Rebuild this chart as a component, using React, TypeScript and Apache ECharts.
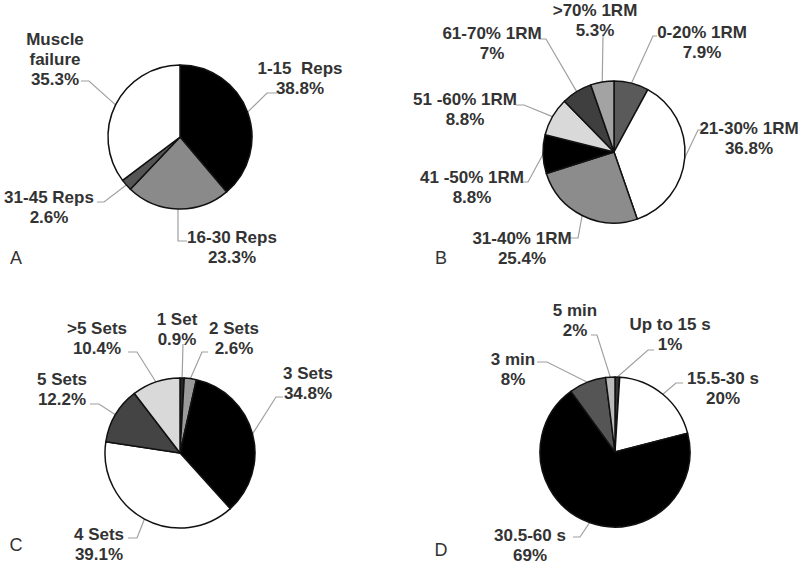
import React, { useEffect, useRef } from "react";
import * as echarts from "echarts";

// ---- Data ----
const repsNames = ["1-15  Reps", "16-30 Reps", "31-45 Reps", "Muscle\nfailure"];
const repsValues = [38.8, 23.3, 2.6, 35.3];

const loadNames = ["0-20% 1RM", "21-30% 1RM", "31-40% 1RM", "41 -50% 1RM", "51 -60% 1RM", "61-70% 1RM", ">70% 1RM"];
const loadValues = [7.9, 36.8, 25.4, 8.8, 8.8, 7, 5.3];

const setsNames = ["1 Set", "2 Sets", "3 Sets", "4 Sets", "5 Sets", ">5 Sets"];
const setsValues = [0.9, 2.6, 34.8, 39.1, 12.2, 10.4];

const restNames = ["Up to 15 s", "15.5-30 s", "30.5-60 s", "3 min", "5 min"];
const restValues = [1, 20, 69, 8, 2];

const panelLetters = ["A", "B", "C", "D"];

// ---- Styles / layout (not data) ----
const repsColors = ["#000000", "#8a8a8a", "#555555", "#ffffff"];
const loadColors = ["#5a5a5a", "#ffffff", "#8c8c8c", "#000000", "#d9d9d9", "#3f3f3f", "#a3a3a3"];
const setsColors = ["#262626", "#9a9a9a", "#000000", "#ffffff", "#444444", "#d9d9d9"];
const restColors = ["#333333", "#ffffff", "#000000", "#555555", "#bbbbbb"];

type LabelCfg = { lx: number; ly: number; line: number[][] };

const panels = [
  {
    names: repsNames, values: repsValues, colors: repsColors, center: [180, 137], radius: 72,
    labels: [
      { lx: 300, ly: 78, line: [[267, 93], [277, 93]] },
      { lx: 232, ly: 247, line: [[178, 241], [187, 241]] },
      { lx: 49, ly: 207, line: [[104, 202], [97, 202]] },
      { lx: 55, ly: 59, line: [[89, 81], [81, 81]] },
    ] as LabelCfg[],
  },
  {
    names: loadNames, values: loadValues, colors: loadColors, center: [614, 152], radius: 71,
    labels: [
      { lx: 702, ly: 42, line: [[653, 36], [657, 36]] },
      { lx: 749, ly: 138, line: [[698, 130], [703, 130]] },
      { lx: 522, ly: 248, line: [[578, 238], [570, 238]] },
      { lx: 472, ly: 187, line: [[528, 182], [521, 182]] },
      { lx: 465, ly: 109, line: [[524, 105], [516, 105]] },
      { lx: 492, ly: 43, line: [[546, 39], [539, 39]] },
      { lx: 595, ly: 20, line: [[603, 34], [603, 34]] },
    ] as LabelCfg[],
  },
  {
    names: setsNames, values: setsValues, colors: setsColors, center: [180, 453], radius: 75,
    labels: [
      { lx: 177, ly: 329, line: [[183, 344], [183, 344]] },
      { lx: 234, ly: 338, line: [[202, 352], [208, 352]] },
      { lx: 308, ly: 383, line: [[276, 397], [283, 397]] },
      { lx: 99, ly: 544, line: [[137, 538], [128, 538]] },
      { lx: 62, ly: 389, line: [[99, 404], [90, 404]] },
      { lx: 97, ly: 338, line: [[137, 352], [128, 352]] },
    ] as LabelCfg[],
  },
  {
    names: restNames, values: restValues, colors: restColors, center: [615, 452], radius: 75,
    labels: [
      { lx: 670, ly: 334, line: [[648, 350], [654, 350]] },
      { lx: 723, ly: 388, line: [[676, 383], [683, 383]] },
      { lx: 530, ly: 545, line: [[580, 537], [573, 537]] },
      { lx: 513, ly: 369, line: [[547, 362], [537, 362]] },
      { lx: 575, ly: 320, line: [[597, 335], [591, 335]] },
    ] as LabelCfg[],
  },
];

const letterPos = [
  [16, 258],
  [441, 258],
  [16, 545],
  [441, 550],
];

const FONT = "'Liberation Sans', Arial, Helvetica, sans-serif";

function edgePoint(values: number[], idx: number, center: number[], r: number) {
  const total = values.reduce((a, b) => a + b, 0);
  let before = 0;
  for (let i = 0; i < idx; i++) before += values[i];
  const frac = (before + values[idx] / 2) / total;
  const ang = frac * Math.PI * 2; // clockwise from 12 o'clock
  return [center[0] + r * Math.sin(ang), center[1] - r * Math.cos(ang)];
}

export default function App() {
  const ref = useRef<HTMLDivElement>(null);
  useEffect(() => {
    if (!ref.current) return;
    const chart = echarts.init(ref.current, undefined, { renderer: "svg" });
    const series = panels.map((p) => ({
      type: "pie",
      center: p.center,
      radius: p.radius,
      startAngle: 90,
      clockwise: true,
      avoidLabelOverlap: false,
      silent: true,
      data: p.names.map((n, i) => ({ name: n, value: p.values[i], itemStyle: { color: p.colors[i] } })),
      itemStyle: { borderColor: "#111", borderWidth: 1.5 },
      label: {
        show: true,
        position: "outside",
        formatter: "{b}\n{c}%",
        fontFamily: FONT,
        fontWeight: "bold",
        fontSize: 17,
        lineHeight: 20,
        color: "#333333",
      },
      labelLine: { show: true, lineStyle: { color: "#a0a0a0", width: 1.2 } },
      labelLayout: (params: any) => {
        const cfg = p.labels[params.dataIndex];
        const start = edgePoint(p.values, params.dataIndex, p.center, p.radius);
        return {
          x: cfg.lx,
          y: cfg.ly,
          align: "center",
          verticalAlign: "middle",
          labelLinePoints: [start, cfg.line[0], cfg.line[1]],
        };
      },
    }));
    chart.setOption({
      animation: false,
      backgroundColor: "#ffffff",
      series,
      graphic: panelLetters.map((t, i) => ({
        type: "text",
        x: letterPos[i][0],
        y: letterPos[i][1],
        style: {
          text: t,
          fontFamily: FONT,
          fontSize: 18,
          fill: "#333",
          align: "center",
          verticalAlign: "middle",
        },
      })),
    });
    return () => chart.dispose();
  }, []);
  return (
    <div
      ref={ref}
      style={{ position: "fixed", left: 0, top: 0, width: 800, height: 565, background: "#fff" }}
    />
  );
}
